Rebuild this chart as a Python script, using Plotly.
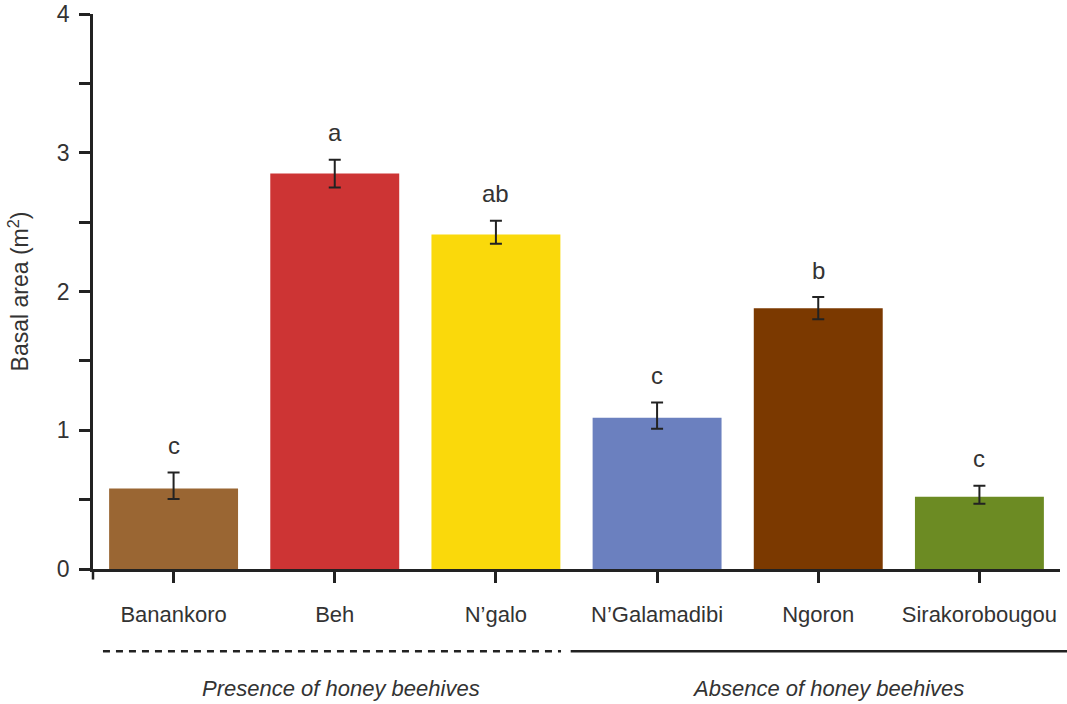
import plotly.graph_objects as go

# Sites and mean basal area with standard-error bars
sites = ["Banankoro", "Beh", "N\u2019galo", "N\u2019Galamadibi", "Ngoron", "Sirakorobougou"]
basal_area = [0.58, 2.85, 2.41, 1.09, 1.88, 0.52]
err_plus = [0.115, 0.10, 0.10, 0.11, 0.08, 0.08]
err_minus = [0.075, 0.10, 0.065, 0.08, 0.08, 0.05]
groups = ["c", "a", "ab", "c", "b", "c"]
bar_colors = ["#9A6633", "#CD3434", "#FAD90B", "#6B80BF", "#7B3900", "#6C8B23"]

y_tick_vals = [0, 0.5, 1, 1.5, 2, 2.5, 3, 3.5, 4]
y_tick_text = ["0", "", "1", "", "2", "", "3", "", "4"]

presence_label = "Presence of honey beehives"
absence_label = "Absence of honey beehives"

AXIS = "#222222"
TEXT = "#333333"
FONT = "Liberation Sans, Arial, sans-serif"

fig = go.Figure()
fig.add_trace(go.Bar(
    x=sites,
    y=basal_area,
    width=0.8,
    marker=dict(color=bar_colors, line=dict(width=0)),
    error_y=dict(type="data", array=err_plus, arrayminus=err_minus,
                 color=AXIS, thickness=2, width=6, symmetric=False),
    hoverinfo="x+y",
))

# Significance letters above each error bar
for s, v, e, g in zip(sites, basal_area, err_plus, groups):
    fig.add_annotation(x=s, y=v + e, text=g, showarrow=False,
                       xanchor="center", yanchor="middle", yshift=27,
                       font=dict(family=FONT, size=24, color=TEXT))

# Extension of the y axis below the baseline
fig.add_shape(type="line", xref="paper", yref="paper", x0=0, x1=0,
              y0=0, y1=-0.019, line=dict(color=AXIS, width=2.5))

# Group separators under the category labels
fig.add_shape(type="line", xref="paper", yref="paper", x0=0.0103, x1=0.484,
              y0=-0.148, y1=-0.148,
              line=dict(color=AXIS, width=2.5, dash="7px,6px"))
fig.add_shape(type="line", xref="paper", yref="paper", x0=0.494, x1=1.01,
              y0=-0.148, y1=-0.148, line=dict(color=AXIS, width=2.5))

fig.add_annotation(xref="paper", yref="paper", x=0.2565, y=-0.216,
                   text=f"<i>{presence_label}</i>", showarrow=False,
                   xanchor="center", yanchor="middle",
                   font=dict(family=FONT, size=22, color=TEXT))
fig.add_annotation(xref="paper", yref="paper", x=0.760, y=-0.216,
                   text=f"<i>{absence_label}</i>", showarrow=False,
                   xanchor="center", yanchor="middle",
                   font=dict(family=FONT, size=22, color=TEXT))

fig.update_layout(
    width=1067, height=704,
    margin=dict(l=93, r=7, t=14, b=135),
    plot_bgcolor="white", paper_bgcolor="white",
    showlegend=False,
    font=dict(family=FONT, color=TEXT),
    xaxis=dict(
        range=[-0.5, 5.5], automargin=False,
        showline=True, linecolor=AXIS, linewidth=2.5,
        ticks="outside", ticklen=11, tickwidth=2.5, tickcolor=AXIS,
        tickfont=dict(family=FONT, size=22, color=TEXT),
        ticklabelstandoff=13,
        showgrid=False, zeroline=False,
    ),
    yaxis=dict(
        range=[0, 4], automargin=False,
        tickvals=y_tick_vals, ticktext=y_tick_text,
        showline=True, linecolor=AXIS, linewidth=2.5,
        ticks="outside", ticklen=11, tickwidth=2.5, tickcolor=AXIS,
        tickfont=dict(family=FONT, size=23, color=TEXT),
        ticklabelstandoff=5,
        showgrid=False, zeroline=False,
        title=dict(text="Basal area (m<sup>2</sup>)", standoff=22,
                   font=dict(family=FONT, size=23, color=TEXT)),
    ),
)

fig.write_html("out.html")
